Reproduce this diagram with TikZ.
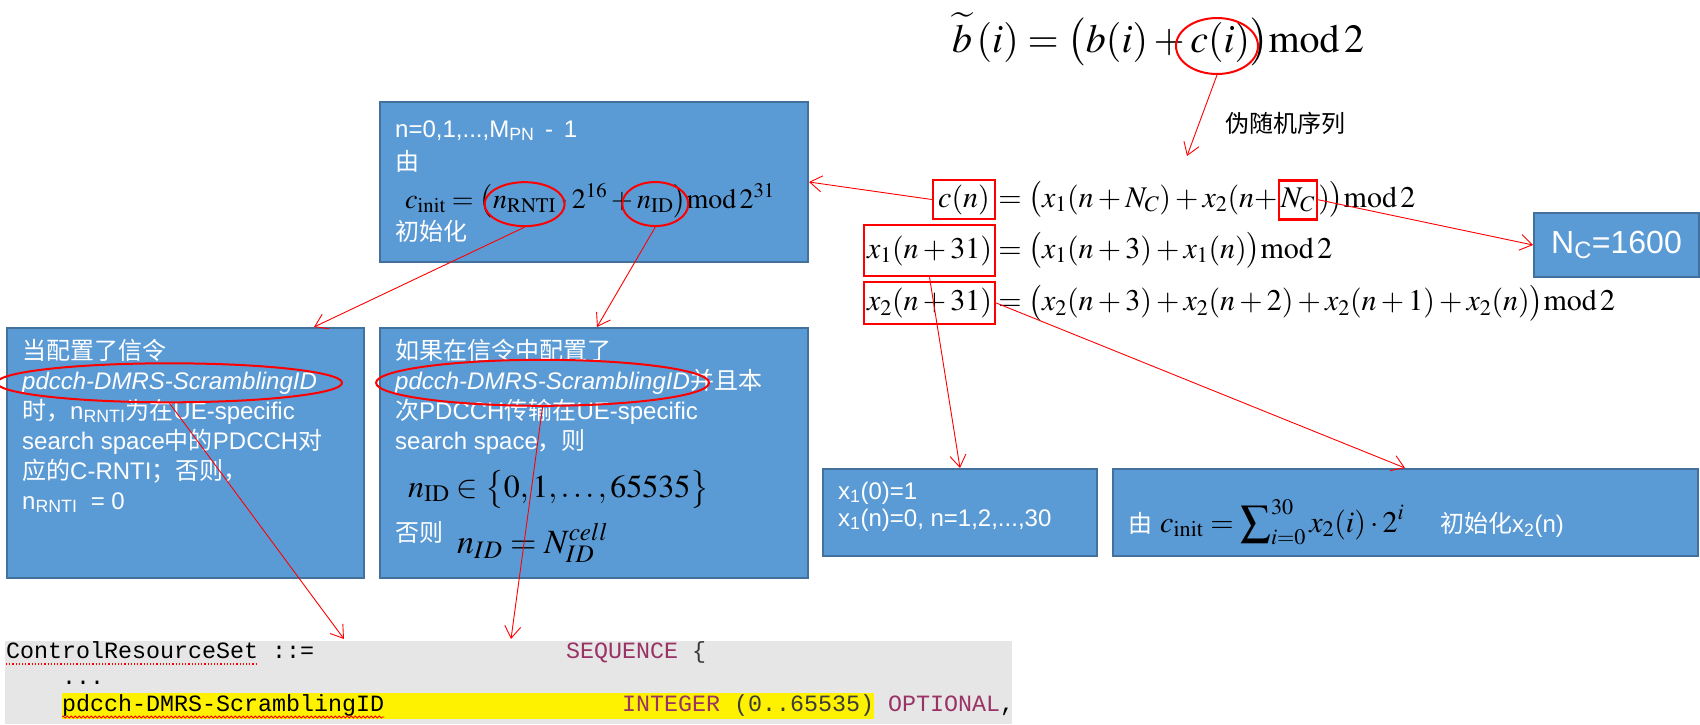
\documentclass[tikz,border=0pt]{standalone}
\usepackage{mathptmx}
\usepackage[no-math]{fontspec}
\setmainfont{Liberation Sans}
\newfontfamily\cjk{Noto Sans CJK SC}
\newfontfamily\monof{Liberation Mono}
\usetikzlibrary{arrows.meta,shapes.geometric,decorations.pathmorphing}
\newcommand\zh[1]{{\cjk #1}}
\newcommand\modtwo{\mathrm{mod}\,2}
\definecolor{boxblue}{RGB}{91,155,213}
\definecolor{boxedge}{RGB}{65,113,156}
\definecolor{kw}{RGB}{153,51,102}
\definecolor{codebg}{RGB}{231,230,230}
\definecolor{codedark}{RGB}{60,60,60}
\begin{document}
\begin{tikzpicture}[x=1pt,y=-1pt,
  bluebox/.style={draw=boxedge, fill=boxblue, line width=2pt, inner sep=0, anchor=north west},
  wt/.style={text=white, font=\fontsize{24}{30}\selectfont, anchor=base west, inner sep=0},
  mth/.style={font=\fontsize{30}{36}\selectfont, anchor=base west, inner sep=0},
  mthb/.style={font=\fontsize{28}{34}\selectfont, anchor=base west, inner sep=0},
  rbox/.style={draw=red, line width=2.5pt, inner sep=0, font=\fontsize{30}{36}\selectfont},
  rell/.style={ellipse, draw=red, line width=2pt, inner sep=0},
  rarrow/.style={draw=red, line width=0.9pt, -{Straight Barb[length=12pt,width=16pt]}},
  code/.style={font=\monof\fontsize{23.33}{28}\selectfont, anchor=base west, inner sep=0},
]
\useasboundingbox (0,0) rectangle (1700,724);

% ---------- blue boxes ----------
\node[bluebox, minimum width=428, minimum height=160] (tb) at (379,101) {};
\node[bluebox, minimum width=357, minimum height=250] (lb) at (6,327) {};
\node[bluebox, minimum width=428, minimum height=250] (mb) at (379,327) {};
\node[bluebox, minimum width=165, minimum height=64, text=white, font=\fontsize{32}{38}\selectfont] (ncb) at (1533,212) {N\textsubscript{C}=1600};
\node[bluebox, minimum width=274, minimum height=87] (x1b) at (822,468) {};
\node[bluebox, minimum width=585, minimum height=87] (x2b) at (1112,468) {};

% ---------- code block ----------
\node[fill=codebg, anchor=north west, minimum width=1007, minimum height=83, inner sep=0] (cb) at (5,641) {};
\node[fill=yellow, anchor=north west, minimum width=812, minimum height=26, inner sep=0] (hl) at (62,693) {};
\node[code] (c1) at (6,658) {ControlResourceSet ::=};
\node[code, text=kw] (c2) at (566,658) {SEQUENCE};
\node[code, text=codedark] (c3) at (692,658) {\{};
\node[code] (c4) at (62,684) {...};
\node[code] (c5) at (62,711) {pdcch-DMRS-ScramblingID};
\node[code, text=kw] (c6) at (622,711) {INTEGER};
\node[code, text=codedark] (c7) at (734,711) {(0..65535)};
\node[code, text=kw] (c8) at (888,711) {OPTIONAL};
\node[code] (c9) at (1000,711) {,};
\draw[red, dotted, line width=1.2pt] ([yshift=-6pt]c1.base west) -- ([yshift=-6pt,xshift=-56pt]c1.base east);
\draw[red, line width=0.8pt, decorate, decoration={snake, amplitude=1pt, segment length=4pt}] ([yshift=-6pt]c5.base west) -- ([yshift=-6pt]c5.base east);

% ---------- top formula ----------
\node[mth, font=\fontsize{40}{48}\selectfont] (bt) at (952,52) {$\widetilde{b}\,(i)=\bigl(b(i)+c(i)\bigr)\modtwo$};
\node[rell, minimum width=82, minimum height=56] (eci) at (1217,46) {};
\coordinate (prsT) at (1187,156);
\draw[rarrow] (eci.south) -- (prsT);
\node[anchor=base west, inner sep=0, font=\cjk\fontsize{24}{30}\selectfont] (prs) at (1225,132) {伪随机序列};

% ---------- right formulas ----------
\node[rbox, minimum width=62, minimum height=39] (cn) at (964,199.5) {$c(n)$};
\node[mth] (cnA) at ([xshift=2pt]cn.base east) {$=\bigl(x_1(n+N_C)+x_2(n+$};
\node[rbox, anchor=base west, minimum height=39, inner xsep=2pt] (ncr) at (cnA.base east) {$N_C$};
\node[mth] (cnB) at (ncr.base east) {$)\bigr)\modtwo$};

\node[rbox, minimum width=131, minimum height=51] (x1r) at (929.5,250.5) {$x_1(n+31)$};
\node[mth] (x1A) at ([xshift=2pt]x1r.base east) {$=\bigl(x_1(n+3)+x_1(n)\bigr)\modtwo$};

\node[rbox, minimum width=131, minimum height=42] (x2r) at (929.5,303) {$x_2(n+31)$};
\node[mth] (x2A) at ([xshift=2pt]x2r.base east) {$=\bigl(x_2(n+3)+x_2(n+2)+x_2(n+1)+x_2(n)\bigr)\modtwo$};

% ---------- top box content ----------
\node[wt] (t1) at (395,137) {n=0,1,...,M\textsubscript{PN} \,-\, 1};
\node[wt] (t2) at (395,170) {\zh{由}};
\node[mthb] (t3a) at (405,208) {$c_{\mathrm{init}}=\bigl($};
\node[mthb] (t3b) at (t3a.base east) {$n_{\mathrm{RNTI}}$};
\node[mthb] (t3c) at (t3b.base east) {${}\cdot 2^{16}+{}$};
\node[mthb] (t3d) at (t3c.base east) {$n_{\mathrm{ID}}$};
\node[mthb] (t3e) at (t3d.base east) {$\bigr)\mathrm{mod}\,2^{31}$};
\node[wt] (t4) at (395,240) {\zh{初始化}};
\node[rell, minimum width=80, minimum height=44] (ernti) at (t3b.center) {};
\node[rell, minimum width=66, minimum height=44] (eid) at (t3d.center) {};

% ---------- left box content ----------
\node[wt] (l1) at (22,359) {\zh{当配置了信令}};
\node[wt] (l2) at (22,389) {\itshape pdcch-DMRS-ScramblingID};
\node[wt] (l3) at (22,419) {\zh{时，}n\textsubscript{RNTI}\zh{为在}UE-specific};
\node[wt] (l4) at (22,449) {search space\zh{中的}PDCCH\zh{对}};
\node[wt] (l5) at (22,479) {\zh{应的}C-RNTI\zh{；否则，}};
\node[wt] (l6) at (22,509) {n\textsubscript{RNTI}\ \ = 0};
\node[rell, minimum width=345, minimum height=39] (el) at (l2.center) {};

% ---------- middle box content ----------
\node[wt] (m1) at (395,359) {\zh{如果在信令中配置了}};
\node[wt] (m2a) at (395,389) {\itshape pdcch-DMRS-ScramblingID};
\node[wt] (m2b) at (m2a.base east) {\zh{并且本}};
\node[wt] (m3) at (395,419) {\zh{次}PDCCH\zh{传输在}UE-specific};
\node[wt] (m4) at (395,449) {search space\zh{，则}};
\node[mth, font=\fontsize{32}{38}\selectfont] (m5) at (408,497) {$n_{\mathrm{ID}}\in\bigl\{0,1,\ldots,65535\bigr\}$};
\node[wt] (m6) at (395,541) {\zh{否则}};
\node[mth, font=\fontsize{34}{40}\selectfont] (m7) at (457,553) {$n_{ID}=N_{ID}^{cell}$};
\node[rell, minimum width=333, minimum height=46] (em) at (m2a.center) {};

% ---------- x1 / x2 boxes content ----------
\node[wt] (x1t1) at (838,499) {x\textsubscript{1}(0)=1};
\node[wt] (x1t2) at (838,526) {x\textsubscript{1}(n)=0, n=1,2,...,30};
\node[wt] (x2t1) at (1128,532) {\zh{由}};
\node[mth] (x2t2) at (1160,532) {$c_{\mathrm{init}}=\displaystyle\sum\nolimits_{i=0}^{30}x_2(i)\cdot 2^i$};
\node[wt] (x2t3) at (1440,532) {\zh{初始化}x\textsubscript{2}(n)};

% ---------- connectors ----------
\coordinate (lbT) at (314,327);
\coordinate (mbT) at (597,327);
\coordinate (cbL) at (344,639);
\coordinate (cbR) at (511,639);
\coordinate (x2T) at (1405,468);
\draw[rarrow] (cn.west) -- (tb.east);
\draw[rarrow] (ernti.south) -- (lbT);
\draw[rarrow] (eid.south) -- (mbT);
\draw[rarrow] (el.south) -- (cbL);
\draw[rarrow] (em.south) -- (cbR);
\draw[rarrow] (ncr.east) -- (ncb.west);
\draw[rarrow] (x1r.south) -- (x1b.north);
\draw[rarrow] (x2r.east) -- (x2T);
\end{tikzpicture}
\end{document}
